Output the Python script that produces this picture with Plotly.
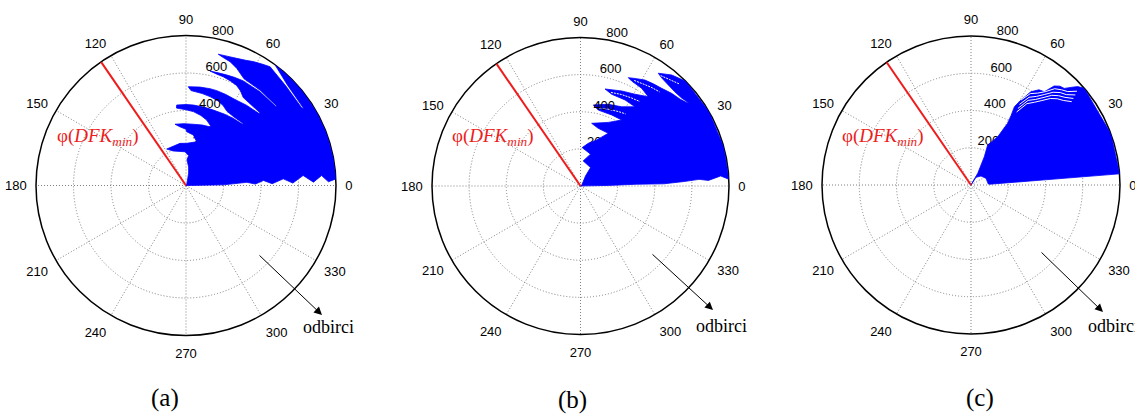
import plotly.graph_objects as go

# ---------------- data ----------------
ANGLE_TICKS = list(range(0, 360, 30))
ANGLE_LABELS = [str(a) for a in ANGLE_TICKS]
RADIAL_TICKS = [200, 400, 600, 800]
RADIAL_LABELS = ["200", "400", "600", "800"]
R_MAX = 800
DFK_ANGLE = [124.5, 124.5, 124.5]          # phi(DFK_min) direction per panel
PANEL_LABELS = ["(a)", "(b)", "(c)"]

# envelope of the sample cloud, panel (a)
theta_a = [0, 0.8, 1.0, 3.0, 1.2, 3.7, 1.2, 3.9, 1.3, 4.9, 1.5, 4.2, 1.5, 2.5,
           10, 20, 30, 40, 48, 53.6,
           44.9, 33.3, 33.8, 45, 54.7,
           58, 61.5, 64.5, 68.3, 72, 76.2,
           73, 70.4, 66.6, 61.5, 51.7, 41,
           41.5, 51.7, 61.5, 66, 70, 74, 78.2,
           74.5, 71.1, 67, 63.2, 60, 57, 44.3,
           44.5, 53, 60, 66.4, 72, 76.1, 82, 88.7,
           87, 80, 74.9, 69, 65.1, 61.1, 55, 47.3,
           47.5, 55.1, 62, 70.1, 77, 84.8, 90, 96.6,
           97, 90, 84.3, 78, 72.5, 67,
           69, 75, 83.2, 92, 100.2,
           96, 90, 89.3, 81.7, 76.3, 89,
           98.1, 117.9, 110.2, 91.7,
           85, 87.8, 82, 78, 67, 0]
r_a = [0, 30, 200, 325, 370, 414, 460, 520, 570, 627, 680, 725, 760, 800,
       800, 800, 800, 800, 800, 800,
       762, 750, 743, 752, 776,
       764, 752, 740, 730, 724, 721,
       708, 701, 681, 648, 644, 643,
       637, 637, 636, 632, 628, 625, 624,
       616, 613, 606, 598, 582, 560, 553,
       547, 536, 528, 530, 532, 532, 530, 527,
       507, 498, 491, 482, 470, 452, 446, 450,
       444, 438, 432, 428, 429, 431, 432, 432,
       416, 404, 396, 382, 366, 342,
       337, 334, 329, 330, 332,
       315, 300, 287, 272, 240, 225,
       227, 220, 196, 180,
       160, 137, 100, 68, 14, 0]

# envelope of the sample cloud, panel (b)
theta_b = [0, 1.5, 1.2, 1.8, 1.5, 2.5, 3.2, 2.5, 4.1, 2.6,
           15, 30, 44.9,
           50.6, 55.4,
           53, 49, 45, 41, 37.5,
           38, 41, 45.5, 50.3, 54.5, 58.7, 62.5, 66.2,
           64, 58, 52.8,
           59.3, 66.6, 75.8,
           71.2, 62.6, 55.5,
           62.5, 71.2, 81,
           76.8, 66.3, 58,
           66.4, 79.9,
           72.9, 62.2,
           70.6, 79.6, 87.5,
           72.5, 83.9, 61.3, 63.4, 45, 0]
r_b = [0, 30, 150, 300, 450, 560, 640, 690, 757, 800,
       800, 800, 800,
       774, 738,
       728, 721, 718, 722, 735,
       728, 712, 700, 684, 676, 668, 652, 638,
       629, 621, 604,
       575, 558, 539,
       522, 522, 518,
       481, 465, 442,
       420, 418, 419,
       374, 343,
       325, 321,
       263, 234, 207,
       180, 136, 113, 60, 13, 0]

# envelope of the sample cloud, panel (c)
theta_c = [0, 57, 42, 24, 3.3, 2.4, 4.0, 4.3,
           20, 40.5,
           42.7, 44, 46, 48, 50, 51.8, 54.5, 57.3, 59.5, 61, 60, 59.3, 61, 64, 67.4, 64.8, 60, 0]
r_c = [0, 49, 72, 88, 93, 100, 400, 800,
       800, 800,
       779, 756, 721, 714, 694, 637, 628, 595, 529, 481, 430, 385, 296, 262, 233, 168, 72, 0]

# white gaps between individual sample curves
gap_theta_b = [[54, 50, 46],
               [63, 58, 54, 50],
               [72, 66, 60, 55],
               [77, 70, 63, 58]]
gap_r_b = [[735, 748, 765],
           [638, 646, 655, 662],
           [530, 540, 548, 556],
           [432, 440, 450, 458]]
gap_theta_c = [[41.5, 44, 46.5, 49, 51.5, 54, 57, 59.5],
               [40.8, 43.5, 46, 48.5, 51, 53.5, 56.5, 59],
               [40.2, 43, 45.5, 48, 50.5, 53, 56, 58.5],
               [39.6, 42.5, 45, 47.5, 50, 52.5, 55.5, 58]]
gap_r_c = [[760, 722, 705, 685, 640, 610, 585, 530],
           [740, 705, 690, 665, 625, 592, 565, 505],
           [720, 690, 672, 648, 608, 575, 548, 482],
           [702, 672, 655, 630, 592, 560, 530, 462]]

ENVELOPES = [(theta_a, r_a), (theta_b, r_b), (theta_c, r_c)]
GAPS = [([], []), (gap_theta_b, gap_r_b), (gap_theta_c, gap_r_c)]

# ---------------- layout helpers ----------------
W, H = 1135, 414
CENTERS = [(186.0, 185.5, 150.0), (580.5, 186.0, 148.5), (971.0, 185.0, 149.0)]
RLABEL_ANGLE = 80


def px(x):
    return x / W


def py(y):
    return 1 - y / H


fig = go.Figure()

grid = dict(gridcolor="#808080", griddash="1px,2px", gridwidth=1)
tickfont = dict(family="Liberation Sans, Arial, sans-serif", size=13, color="black")


def radial_labels(sub, vals, texts):
    return go.Scatterpolar(
        theta=[RLABEL_ANGLE] * len(vals), r=vals, mode="text", text=texts,
        textposition="top right", textfont=tickfont, cliponaxis=False,
        subplot=sub, showlegend=False, hoverinfo="skip")


for i, (cx, cy, R) in enumerate(CENTERS):
    name = "polar" if i == 0 else f"polar{i + 1}"
    th, rr = ENVELOPES[i]
    # innermost radial label sits under the sample cloud
    fig.add_trace(radial_labels(name, RADIAL_TICKS[:1], RADIAL_LABELS[:1]))
    fig.add_trace(go.Scatterpolar(
        theta=th, r=rr, mode="lines", fill="toself",
        fillcolor="#0000ff", line=dict(color="#0000ff", width=0.8),
        subplot=name, showlegend=False, hoverinfo="skip"))
    for gth, gr in zip(*GAPS[i]):
        fig.add_trace(go.Scatterpolar(
            theta=gth, r=gr, mode="lines",
            line=dict(color="white", width=1, dash="2px,1px" if i == 1 else "solid"),
            subplot=name, showlegend=False, hoverinfo="skip"))
    fig.add_trace(go.Scatterpolar(
        theta=[DFK_ANGLE[i], DFK_ANGLE[i]], r=[0, R_MAX], mode="lines",
        line=dict(color="#ee1c1c", width=2),
        subplot=name, showlegend=False, hoverinfo="skip"))
    fig.add_trace(radial_labels(name, RADIAL_TICKS[1:], RADIAL_LABELS[1:]))
    fig.update_layout(**{name: dict(
        domain=dict(x=[px(cx - R), px(cx + R)], y=[py(cy + R), py(cy - R)]),
        bgcolor="white",
        radialaxis=dict(range=[0, R_MAX], tickmode="array", tickvals=RADIAL_TICKS,
                        showticklabels=False, showline=False, ticks="",
                        layer="below traces", **grid),
        angularaxis=dict(tickmode="array", tickvals=ANGLE_TICKS, ticktext=ANGLE_LABELS,
                         direction="counterclockwise", rotation=0,
                         showline=True, linecolor="black", linewidth=1.5,
                         ticks="outside", ticklen=6, tickcolor="rgba(0,0,0,0)",
                         tickfont=tickfont, layer="below traces", **grid),
    )})

# ---------------- annotations ----------------
serif = "Liberation Serif, Times New Roman, serif"
annotations = []
phi_pos = [(98, 137), (493, 137), (883, 137)]
arrow_tail = [(258, 254), (651, 253), (1040, 251)]
arrow_head = [(322, 315), (713, 310), (1103, 312)]
odb_pos = [(328, 327), (721, 326), (1113, 326)]
lab_pos = [(165, 398), (572, 400), (980, 398)]

for i in range(3):
    annotations.append(dict(
        x=px(phi_pos[i][0]), y=py(phi_pos[i][1]), xref="paper", yref="paper",
        xanchor="center", yanchor="middle",
        text="φ(<i>DFK<sub>min</sub></i>)", showarrow=False,
        font=dict(family=serif, size=19, color="#ee1c1c")))
    hx, hy = arrow_head[i]
    tx, ty = arrow_tail[i]
    annotations.append(dict(
        x=px(hx), y=py(hy), xref="paper", yref="paper", text="",
        showarrow=True, ax=tx - hx, ay=ty - hy, arrowhead=2, arrowsize=1.6,
        arrowwidth=1, arrowcolor="black"))
    annotations.append(dict(
        x=px(odb_pos[i][0]), y=py(odb_pos[i][1]), xref="paper", yref="paper",
        xanchor="center", yanchor="middle",
        text="odbirci", showarrow=False,
        font=dict(family=serif, size=18, color="black")))
    annotations.append(dict(
        x=px(lab_pos[i][0]), y=py(lab_pos[i][1]), xref="paper", yref="paper",
        xanchor="center", yanchor="middle",
        text=PANEL_LABELS[i], showarrow=False,
        font=dict(family=serif, size=25, color="black")))

fig.update_layout(
    width=W, height=H, margin=dict(l=0, r=0, t=0, b=0),
    paper_bgcolor="white", plot_bgcolor="white",
    showlegend=False, annotations=annotations)

fig.write_html("out.html", config={"displayModeBar": False},
               post_script="document.body.style.margin='0';document.body.style.overflow='hidden';")
